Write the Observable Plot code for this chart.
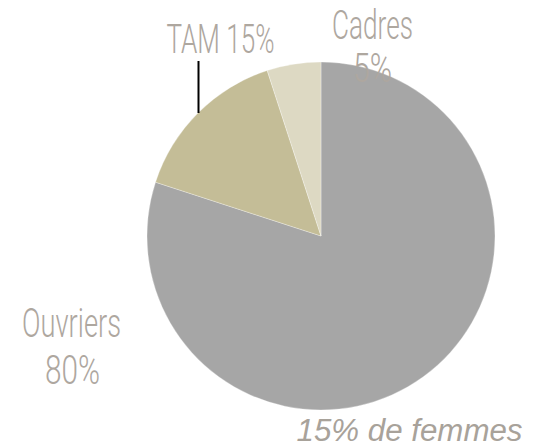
<!DOCTYPE html>
<html><head><meta charset="utf-8">
<script src="https://cdn.jsdelivr.net/npm/d3@7"></script>
<script src="https://cdn.jsdelivr.net/npm/@observablehq/plot@0.6"></script>
<style>body{margin:0;background:#fff}</style>
</head><body><div id="chart"></div>
<script>
// ---- data ----
const categories = ["Ouvriers", "TAM", "Cadres"];
const shares = [80, 15, 5];
const labelLines = [["Ouvriers", "80%"], ["TAM 15%"], ["Cadres", "5%"]];
const caption = "15% de femmes";

// ---- styles / layout ----
const colors = ["#a6a6a6", "#c4bd97", "#ddd9c3"];
const W = 539, H = 448;
const pieCenter = {x: 321, y: 236}, pieRadius = 174;
// per label line: centre x, baseline y, width
const labelLayout = [
  [{x: 71, y: 336, w: 99}, {x: 72, y: 383, w: 55}],
  [{x: 220, y: 52, w: 108}],
  [{x: 372, y: 38, w: 81}, {x: 372, y: 81, w: 39}]
];
const leader = {x: 198, y1: 61, y2: 113};

const data = categories.map((c, i) => ({category: c, share: shares[i]}));
const color = d3.scaleOrdinal(categories, colors);
const slices = d3.pie().sort(null).value(d => d.share)(data);

const rows = [];
labelLines.forEach((lines, i) => lines.forEach((t, j) => rows.push({text: t, ...labelLayout[i][j]})));

const pieMark = (index, scales) => {
  const cx = scales.x(pieCenter.x), cy = scales.y(pieCenter.y);
  const r = scales.x(pieCenter.x + pieRadius) - cx;
  const arc = d3.arc().innerRadius(0).outerRadius(r);
  const g = d3.create("svg:g").attr("transform", `translate(${cx},${cy})`);
  g.selectAll("path").data(slices).join("path")
    .attr("d", arc)
    .attr("fill", d => color(d.data.category))
    .attr("stroke", "#ffffff").attr("stroke-width", 0.6).attr("stroke-opacity", 0.5);
  return g.node();
};

const chart = Plot.plot({
  width: W, height: H, margin: 0,
  style: {background: "#fff", overflow: "visible"},
  x: {domain: [0, W], range: [0, W], axis: null},
  y: {domain: [0, H], range: [0, H], axis: null},
  marks: [
    pieMark,
    Plot.ruleX([leader], {x: "x", y1: "y1", y2: "y2", stroke: "#000", strokeWidth: 2}),
    Plot.text(rows, {
      x: "x", y: "y", text: "text", fontSize: 40, fontWeight: 300,
      fontFamily: "Roboto, 'Liberation Sans Narrow', sans-serif",
      fill: "#aea79f", textAnchor: "middle", lineAnchor: "bottom",
      render: (index, scales, values, dims, ctx, next) => {
        const g = next(index, scales, values, dims, ctx);
        const texts = g.querySelectorAll("text");
        index.forEach((i, k) => {
          texts[k].setAttribute("textLength", rows[i].w);
          texts[k].setAttribute("lengthAdjust", "spacingAndGlyphs");
        });
        return g;
      }
    }),
    Plot.text([caption], {
      x: () => 522, y: () => 440, text: d => d, fontSize: 31, fontStyle: "italic",
      fontFamily: "'Liberation Sans', Arial, sans-serif",
      fill: "#a8a29a", textAnchor: "end", lineAnchor: "bottom",
      render: (index, scales, values, dims, ctx, next) => {
        const g = next(index, scales, values, dims, ctx);
        g.querySelectorAll("text").forEach(t => {
          t.setAttribute("textLength", 226);
          t.setAttribute("lengthAdjust", "spacingAndGlyphs");
        });
        return g;
      }
    })
  ]
});
document.getElementById("chart").appendChild(chart);
</script>
</body></html>
